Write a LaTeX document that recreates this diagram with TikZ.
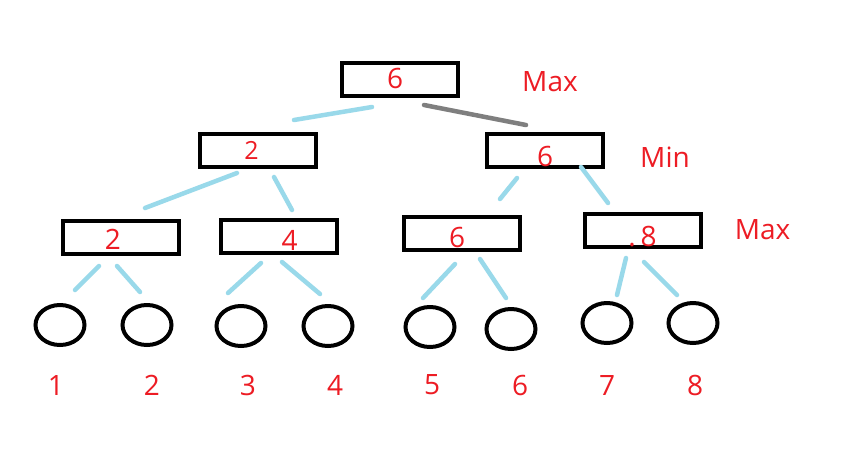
\documentclass[tikz,border=0pt]{standalone}
\usepackage{fontspec}
\setmainfont{Open Sans}
\usetikzlibrary{shapes.geometric}
\definecolor{pred}{HTML}{ED1C24}
\definecolor{pblue}{HTML}{99D9EA}
\definecolor{pgray}{HTML}{7F7F7F}
\tikzset{
  valbox/.style={draw=black, line width=4pt, rectangle, minimum width=116pt, minimum height=33pt, inner sep=0pt},
  leaf/.style={draw=black, line width=4pt, ellipse, minimum width=49pt, minimum height=40pt, inner sep=0pt},
  val/.style={text=pred, font=\fontsize{28}{28}\selectfont, inner sep=0pt},
  edgeb/.style={draw=pblue, line width=4.5pt, line cap=round},
  edgeg/.style={draw=pgray, line width=4.5pt, line cap=round}
}
\begin{document}
\begin{tikzpicture}[x=1pt,y=-1pt]
\useasboundingbox[fill=white] (0,0) rectangle (858,464);
% boxes
\node[valbox] (root) at (400,79.5) {};
\node[valbox] (mL) at (258,150) {};
\node[valbox] (mR) at (544.5,150.5) {};
\node[valbox] (b1) at (120.5,237) {};
\node[valbox] (b2) at (278.5,236.5) {};
\node[valbox] (b3) at (462,233) {};
\node[valbox] (b4) at (643,230.5) {};
% values
\node[val] (vroot) at (395,78) {6};
\node[val, font=\fontsize{25}{25}\selectfont] (vmL) at (251.5,150) {2};
\node[val] (vmR) at (545,156.5) {6};
\node[val] (vb1) at (113,239) {2};
\node[val] (vb2) at (289.5,240) {4};
\node[val] (vb3) at (457,237) {6};
\node[val] (vb4) at (642.5,236.5) {.\kern5pt8};
% level labels
\node[val] (lmax1) at (550,82) {Max};
\node[val] (lmin) at (665,157) {Min};
\node[val] (lmax2) at (762.5,230) {Max};
% leaves
\node[leaf] (l1) at (60,325) {};
\node[leaf] (l2) at (147,325) {};
\node[leaf] (l3) at (241,326) {};
\node[leaf] (l4) at (328,326) {};
\node[leaf] (l5) at (430,327) {};
\node[leaf] (l6) at (511,329) {};
\node[leaf] (l7) at (607,323) {};
\node[leaf] (l8) at (693,323) {};
% leaf numbers
\node[val] (n1) at (56,385) {1};
\node[val] (n2) at (152,385) {2};
\node[val] (n3) at (248,385) {3};
\node[val] (n4) at (335,385) {4};
\node[val] (n5) at (432,385) {5};
\node[val] (n6) at (520,385) {6};
\node[val] (n7) at (607,385) {7};
\node[val] (n8) at (695,385) {8};
% connector ends
\coordinate (rA) at (372,107); \coordinate (mLA) at (294,120);
\coordinate (rB) at (424,105); \coordinate (mRA) at (526,125);
\coordinate (mLB) at (237,173); \coordinate (b1A) at (145,208);
\coordinate (mLC) at (274,177); \coordinate (b2A) at (292,210);
\coordinate (mRB) at (517,178); \coordinate (b3A) at (500,199);
\coordinate (mRC) at (581,167); \coordinate (b4A) at (608,203);
\coordinate (b1B) at (99,266);  \coordinate (l1A) at (75,290);
\coordinate (b1C) at (117,266); \coordinate (l2A) at (140,292);
\coordinate (b2B) at (261,263); \coordinate (l3A) at (228,293);
\coordinate (b2C) at (282,262); \coordinate (l4A) at (320,294);
\coordinate (b3B) at (455,264); \coordinate (l5A) at (423,298);
\coordinate (b3C) at (480,259); \coordinate (l6A) at (506,298);
\coordinate (b4B) at (626,258); \coordinate (l7A) at (617,295);
\coordinate (b4C) at (644,262); \coordinate (l8A) at (677,295);
% connectors
\draw[edgeb] (rA) -- (mLA);
\draw[edgeg] (rB) -- (mRA);
\draw[edgeb] (mLB) -- (b1A);
\draw[edgeb] (mLC) -- (b2A);
\draw[edgeb] (mRB) -- (b3A);
\draw[edgeb] (mRC) -- (b4A);
\draw[edgeb] (b1B) -- (l1A);
\draw[edgeb] (b1C) -- (l2A);
\draw[edgeb] (b2B) -- (l3A);
\draw[edgeb] (b2C) -- (l4A);
\draw[edgeb] (b3B) -- (l5A);
\draw[edgeb] (b3C) -- (l6A);
\draw[edgeb] (b4B) -- (l7A);
\draw[edgeb] (b4C) -- (l8A);
\end{tikzpicture}
\end{document}
